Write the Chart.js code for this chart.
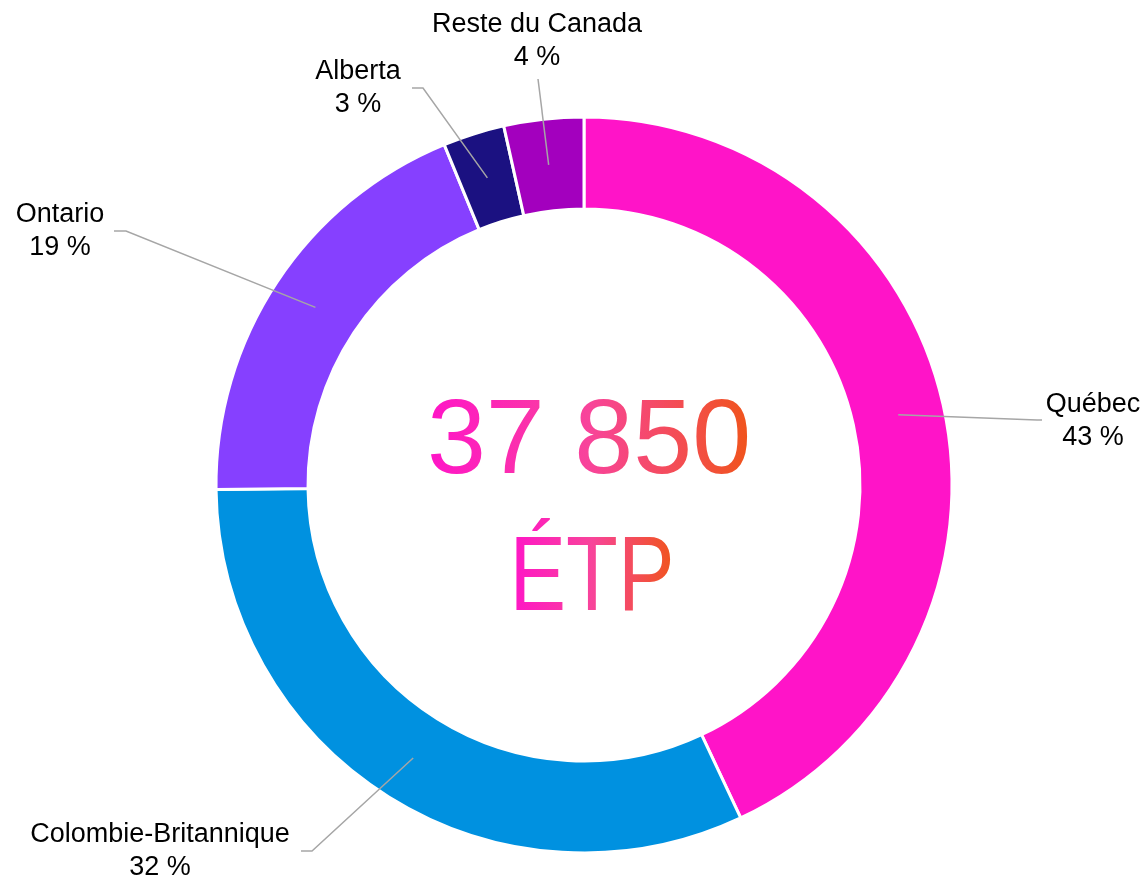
<!DOCTYPE html>
<html>
<head>
<meta charset="utf-8">
<script src="https://cdn.jsdelivr.net/npm/chart.js@4"></script>
<style>
  html, body { margin: 0; padding: 0; background: #ffffff; }
  #wrap { width: 1145px; height: 879px; }
</style>
</head>
<body>
<div id="wrap"><canvas id="etp"></canvas></div>
<script>
// Répartition des ÉTP par province (%)
const regions = ['Québec', 'Colombie-Britannique', 'Ontario', 'Alberta', 'Reste du Canada'];
const shares = [43.0, 31.8, 19.0, 2.7, 3.5];
const shareLabels = ['43 %', '32 %', '19 %', '3 %', '4 %'];
const colors = ['#ff14c8', '#0091e0', '#8640ff', '#1b1181', '#a300be'];
const totalLabel = '37 850';
const unitLabel = 'ÉTP';

// label placement, relative to the doughnut centre: text centre x, first line y, elbow + end of leader
const labelLayout = [
    { tx: 509, ty: -80, ex: 453, ey: -65, hx: 458 },
    { tx: -424, ty: 350, ex: -272, ey: 366, hx: -283 },
    { tx: -524, ty: -270, ex: -458, ey: -254, hx: -470 },
    { tx: -226, ty: -413, ex: -161, ey: -397, hx: -172 },
    { tx: -47, ty: -460, ex: -46, ey: -406, hx: -46 }
];

function gradientText(ctx, text, x, y, sx) {
    const w = ctx.measureText(text).width;
    ctx.save();
    ctx.translate(x, y);
    ctx.scale(sx, 1);
    const g = ctx.createLinearGradient(-w / 2, 0, w / 2, 0);
    g.addColorStop(0, '#ff14c8');
    g.addColorStop(0.5, '#f8449a');
    g.addColorStop(1, '#f0541a');
    ctx.fillStyle = g;
    ctx.fillText(text, 0, 0);
    ctx.restore();
}

const leaderLabels = {
    id: 'leaderLabels',
    afterDatasetsDraw(chart) {
        const ctx = chart.ctx;
        const meta = chart.getDatasetMeta(0);
        const cx = meta.data[0].x;
        const cy = meta.data[0].y;
        ctx.save();
        meta.data.forEach((arc, i) => {
            const p = arc.tooltipPosition();
            const l = labelLayout[i];
            ctx.strokeStyle = '#a6a6a6';
            ctx.lineWidth = 1.5;
            ctx.beginPath();
            ctx.moveTo(p.x, p.y);
            ctx.lineTo(cx + l.ex, cy + l.ey);
            ctx.lineTo(cx + l.hx, cy + l.ey);
            ctx.stroke();

            ctx.fillStyle = '#000000';
            ctx.font = '27px "Liberation Sans", Arial, sans-serif';
            ctx.textAlign = 'center';
            ctx.textBaseline = 'middle';
            ctx.fillText(regions[i], cx + l.tx, cy + l.ty);
            ctx.fillText(shareLabels[i], cx + l.tx, cy + l.ty + 33);
        });

        // centre total
        ctx.font = '106px "Liberation Sans", Arial, sans-serif';
        ctx.textAlign = 'center';
        ctx.textBaseline = 'alphabetic';
        gradientText(ctx, totalLabel, cx + 5, cy - 12, 1);
        gradientText(ctx, unitLabel, cx + 8, cy + 125, 0.8);
        ctx.restore();
    }
};

new Chart(
    document.getElementById('etp'),
    {
        type: 'doughnut',
        data: {
            labels: regions,
            datasets: [
                {
                    data: shares,
                    backgroundColor: colors,
                    borderColor: '#ffffff',
                    borderWidth: 3
                }
            ]
        },
        options: {
            responsive: true,
            maintainAspectRatio: false,
            animation: false,
            radius: 368,
            cutout: '75%',
            layout: {
                padding: { left: 23, right: 0, top: 91, bottom: 0 }
            },
            plugins: {
                legend: { display: false },
                tooltip: { enabled: false },
                title: { display: false }
            }
        },
        plugins: [leaderLabels]
    }
);
</script>
</body>
</html>
